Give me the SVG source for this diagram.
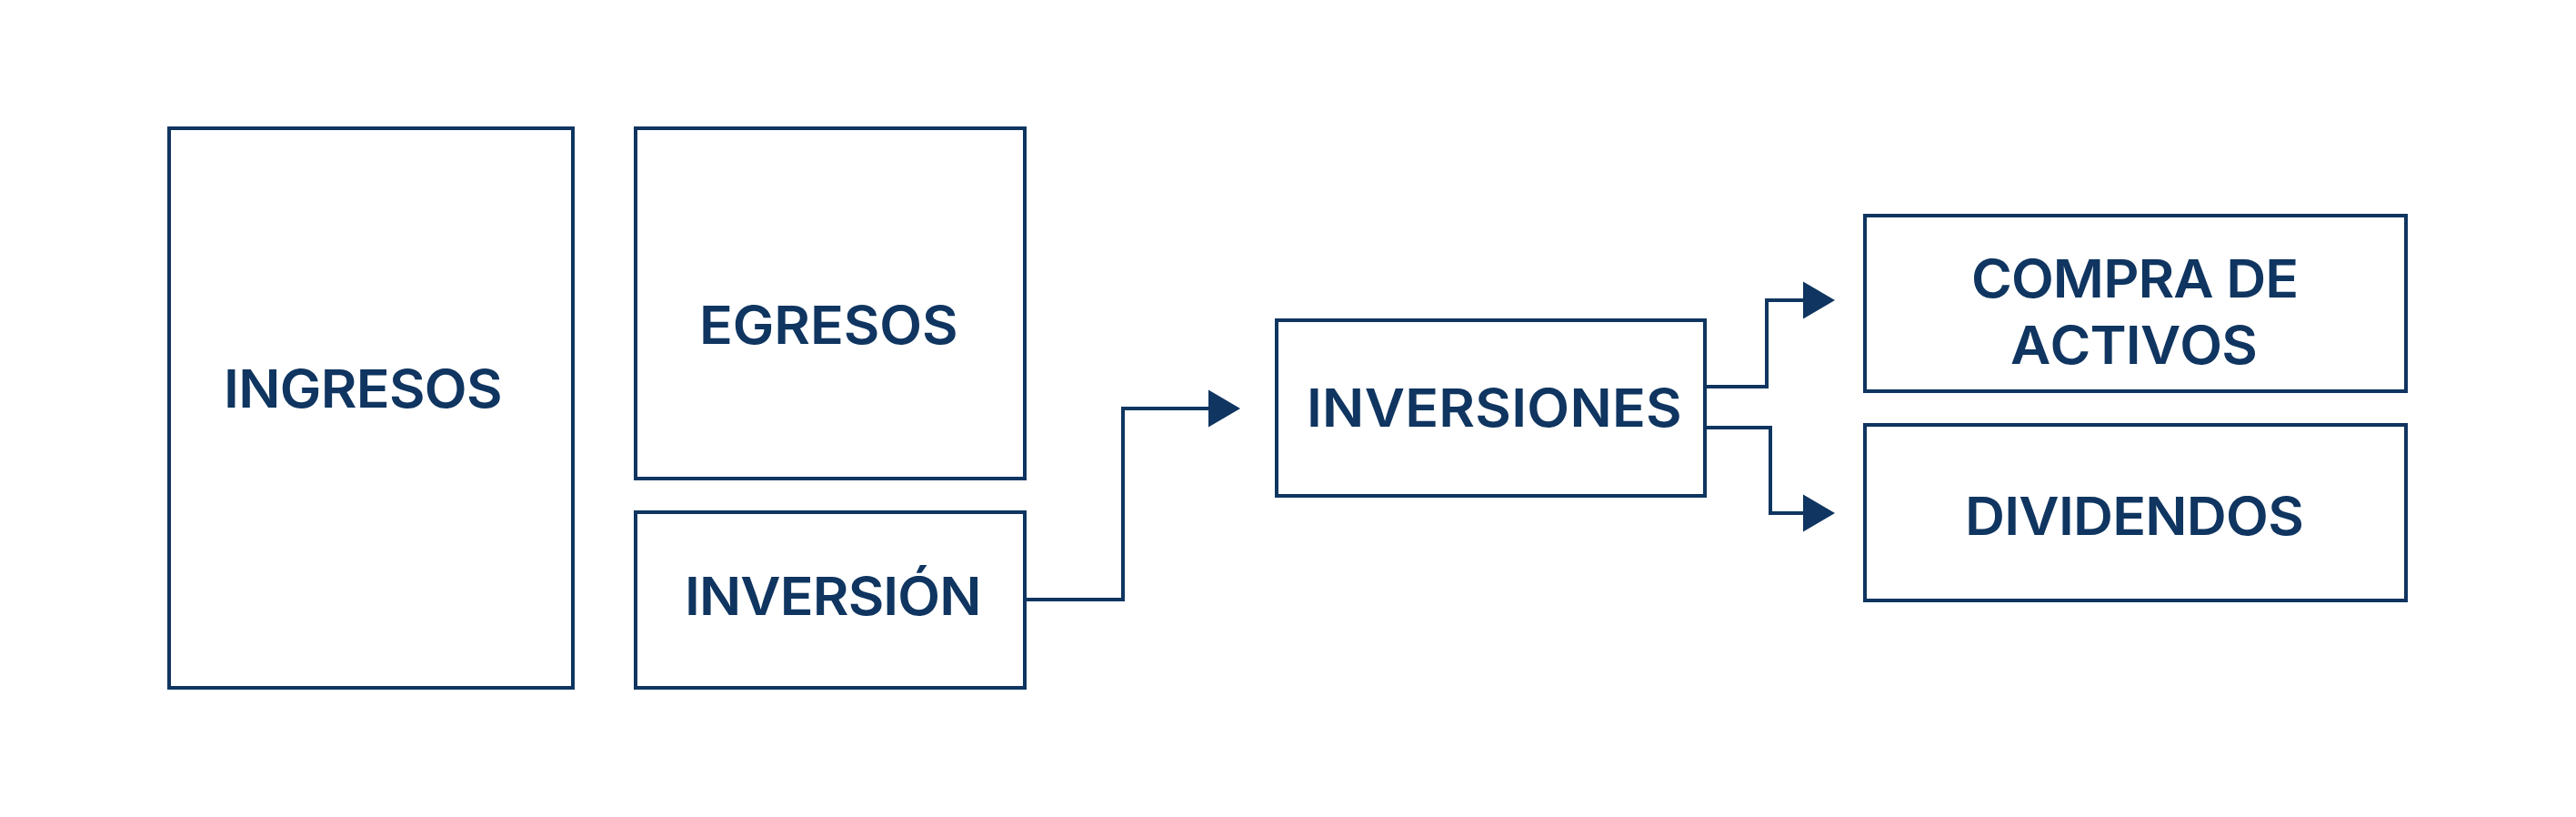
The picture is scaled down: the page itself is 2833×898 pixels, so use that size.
<svg xmlns="http://www.w3.org/2000/svg" width="2833" height="898" viewBox="0 0 2833 898">
<defs>
<style>
.box{fill:#ffffff;stroke:#0f3560;stroke-width:4}
.lbl{font-family:"Inter","Open Sans","Liberation Sans",sans-serif;font-weight:600;font-size:58px;fill:#0f3560;font-kerning:none}
.conn{fill:none;stroke:#0f3560;stroke-width:4;stroke-linejoin:miter}
</style>
<marker id="arr" markerUnits="userSpaceOnUse" markerWidth="36" markerHeight="42" refX="0" refY="20.5" orient="auto" overflow="visible">
<path d="M0,0 L35,20.5 L0,41 Z" fill="#0f3560"/>
</marker>
</defs>
<rect width="2833" height="898" fill="#ffffff"/>
<g id="ingresos">
<rect class="box" x="186" y="141" width="444" height="615"/>
<text class="lbl" transform="translate(246,448) scale(1.05,1)" x="0" y="0" textLength="292" lengthAdjust="spacing">INGRESOS</text>
</g>
<g id="egresos">
<rect class="box" x="699" y="141" width="428" height="385"/>
<text class="lbl" transform="translate(769,378) scale(1.05,1)" x="0" y="0" textLength="271" lengthAdjust="spacing">EGRESOS</text>
</g>
<g id="inversion">
<rect class="box" x="699" y="563" width="428" height="193"/>
<text class="lbl" transform="translate(753,676) scale(1.05,1)" x="0" y="0" textLength="311" lengthAdjust="spacing">INVERSIÓN</text>
</g>
<g id="inversiones">
<rect class="box" x="1404" y="352" width="471" height="193"/>
<text class="lbl" transform="translate(1437,469) scale(1.05,1)" x="0" y="0" textLength="393" lengthAdjust="spacing">INVERSIONES</text>
</g>
<g id="compra">
<rect class="box" x="2051" y="237" width="595" height="193"/>
<text class="lbl" transform="translate(2168,327) scale(1.05,1)" x="0" y="0" textLength="343" lengthAdjust="spacing">COMPRA DE</text>
<text class="lbl" transform="translate(2211,400) scale(1.05,1)" x="0" y="0" textLength="259" lengthAdjust="spacing">ACTIVOS</text>
</g>
<g id="dividendos">
<rect class="box" x="2051" y="467" width="595" height="193"/>
<text class="lbl" transform="translate(2161,588) scale(1.05,1)" x="0" y="0" textLength="355" lengthAdjust="spacing">DIVIDENDOS</text>
</g>
<g id="connectors">
<path class="conn" d="M1127,659 H1235 V449 H1329" marker-end="url(#arr)"/>
<path class="conn" d="M1875,425 H1943 V330 H1983" marker-end="url(#arr)"/>
<path class="conn" d="M1875,470 H1947 V564 H1983" marker-end="url(#arr)"/>
</g>
</svg>
